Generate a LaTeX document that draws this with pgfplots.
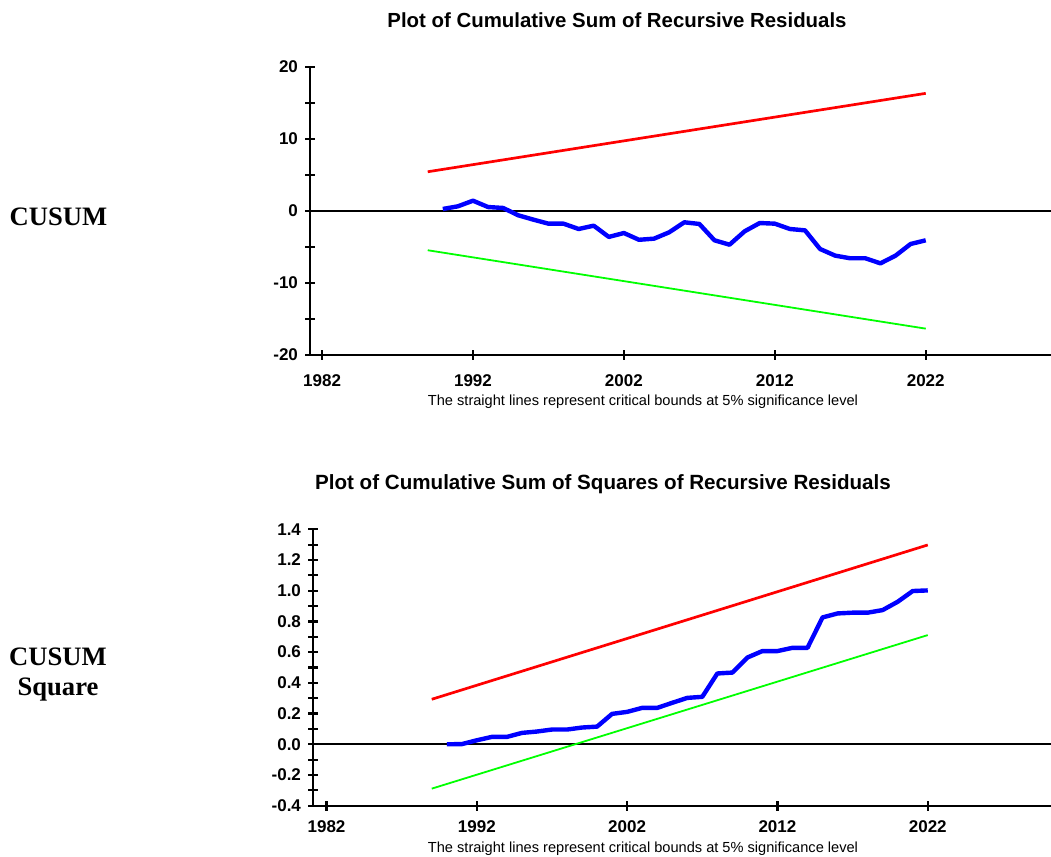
\documentclass[border=0pt]{standalone}
\usepackage{pgfplots}
\pgfplotsset{compat=1.18}
\usepackage{fontspec}
\setmainfont{Liberation Sans}
\newfontfamily\timesf{Liberation Serif}
\begin{document}
\begin{tikzpicture}
\path[use as bounding box] (0,0) rectangle (525.5pt,428.5pt);
\pgfplotsset{
  cusumstyle/.style={
    scale only axis,
    axis x line=bottom, axis y line=left,
    axis line style={-, line width=1.15pt, black},
    tick align=center,
    major tick length=5pt, minor tick length=5pt,
    every tick/.style={black, line width=1.1pt},
    tick label style={font=\bfseries\fontsize{8.5}{10}\selectfont},
    xtick={1982,1992,2002,2012,2022},
    xticklabels={1982,1992,2002,2012,2022},
    clip=false,
  }
}
% ---------------- Top: CUSUM ----------------
\begin{axis}[cusumstyle,
  at={(155pt,251pt)}, anchor=south west,
  width=370.5pt, height=144pt,
  xmin=1981.2, xmax=2030.3,
  ymin=-20, ymax=20,
  ytick={-20,-10,0,10,20},
  yticklabels={-20,-10,0,10,20},
  minor ytick={-15,-5,5,15},
  xticklabel style={yshift=-4pt},
]
\addplot[black, line width=1pt] coordinates {(1981.2,0) (2030.3,0)};
\addplot[red, line width=1.35pt] coordinates {(1989,5.45) (2022,16.34)};
\addplot[green, line width=0.9pt] coordinates {(1989,-5.45) (2022,-16.34)};
\addplot[blue, line width=2.2pt, line join=round] coordinates {
(1990,0.28) (1991,0.65) (1992,1.43) (1993,0.55) (1994,0.42) (1995,-0.60)
(1996,-1.20) (1997,-1.76) (1998,-1.76) (1999,-2.50) (2000,-2.04) (2001,-3.60)
(2002,-3.06) (2003,-4.00) (2004,-3.84) (2005,-2.96) (2006,-1.57) (2007,-1.80)
(2008,-4.07) (2009,-4.68) (2010,-2.82) (2011,-1.67) (2012,-1.76) (2013,-2.50)
(2014,-2.69) (2015,-5.28) (2016,-6.20) (2017,-6.57) (2018,-6.57) (2019,-7.27)
(2020,-6.20) (2021,-4.58) (2022,-4.07)};
\end{axis}
% ---------------- Bottom: CUSUM of squares ----------------
\begin{axis}[cusumstyle,
  at={(156.5pt,25.65pt)}, anchor=south west,
  width=369pt, height=138.2pt,
  xmin=1981.1, xmax=2030.2,
  ymin=-0.4, ymax=1.4,
  ytick={-0.4,-0.2,0,0.2,0.4,0.6,0.8,1.0,1.2,1.4},
  yticklabels={-0.4,-0.2,0.0,0.2,0.4,0.6,0.8,1.0,1.2,1.4},
  minor ytick={-0.3,-0.1,0.1,0.3,0.5,0.7,0.9,1.1,1.3},
  xticklabel style={yshift=-1.5pt},
]
\addplot[black, line width=1pt] coordinates {(1981.1,0) (2030.2,0)};
\addplot[red, line width=1.35pt] coordinates {(1989,0.293) (2022,1.298)};
\addplot[green, line width=0.9pt] coordinates {(1989,-0.289) (2022,0.711)};
\addplot[blue, line width=2.2pt, line join=round] coordinates {
(1990,0.000) (1991,0.001) (1992,0.026) (1993,0.048) (1994,0.048) (1995,0.074)
(1996,0.083) (1997,0.096) (1998,0.096) (1999,0.109) (2000,0.115) (2001,0.198)
(2002,0.211) (2003,0.237) (2004,0.237) (2005,0.270) (2006,0.302) (2007,0.309)
(2008,0.461) (2009,0.467) (2010,0.565) (2011,0.607) (2012,0.607) (2013,0.628)
(2014,0.628) (2015,0.826) (2016,0.852) (2017,0.857) (2018,0.857) (2019,0.874)
(2020,0.928) (2021,0.998) (2022,1.002)};
\end{axis}
% ---------------- Texts ----------------
\node[font=\bfseries\fontsize{10.2}{12}\selectfont] at (308.5pt,418.5pt) {Plot of Cumulative Sum of Recursive Residuals};
\node[font=\fontsize{7.3}{8.5}\selectfont] at (321.5pt,227.5pt) {The straight lines represent critical bounds at 5\% significance level};
\node[font=\bfseries\fontsize{10.3}{12}\selectfont] at (301.5pt,186.5pt) {Plot of Cumulative Sum of Squares of Recursive Residuals};
\node[font=\fontsize{7.3}{8.5}\selectfont] at (321.5pt,4pt) {The straight lines represent critical bounds at 5\% significance level};
\node[font=\timesf\bfseries\fontsize{13.3}{15}\selectfont] at (29.25pt,320pt) {CUSUM};
\node[font=\timesf\bfseries\fontsize{13.3}{15}\selectfont, align=center] at (29pt,91pt) {CUSUM\\Square};
\end{tikzpicture}
\end{document}
